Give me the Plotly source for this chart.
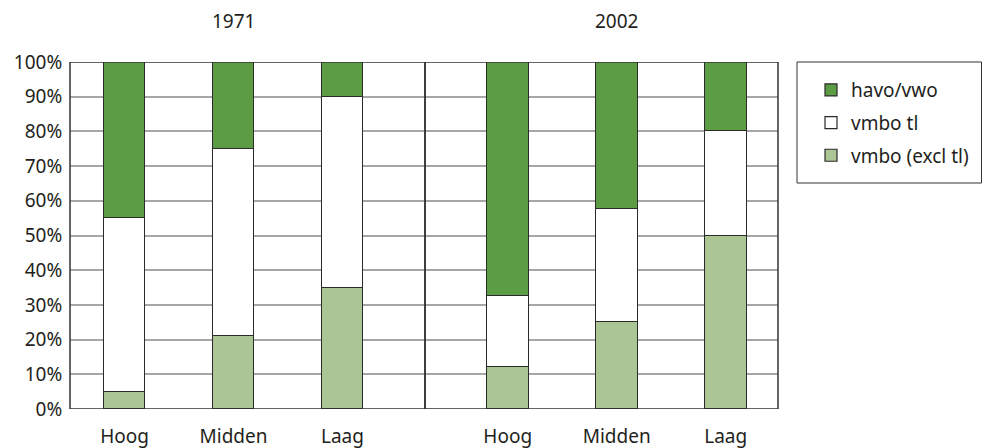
import plotly.graph_objects as go

categories = ["Hoog", "Midden", "Laag"]
years = ["1971", "2002"]
series_names = ["vmbo (excl tl)", "vmbo tl", "havo/vwo"]
vmbo_excl_1971 = [5, 21, 35]
vmbo_tl_1971 = [50, 54, 55]
havo_1971 = [45, 25, 10]
vmbo_excl_2002 = [12, 25, 50]
vmbo_tl_2002 = [20.5, 32.5, 30]
havo_2002 = [67.5, 42.5, 20]
y_ticks = [0, 10, 20, 30, 40, 50, 60, 70, 80, 90, 100]
y_tick_labels = ["0%", "10%", "20%", "30%", "40%", "50%", "60%", "70%", "80%", "90%", "100%"]

colors = {"vmbo (excl tl)": "#acc594", "vmbo tl": "#ffffff", "havo/vwo": "#5c9c45"}
legend_rank = {"havo/vwo": 1, "vmbo tl": 2, "vmbo (excl tl)": 3}
W, H = 982, 448
FONT = "Noto Sans"
FS = 19
TXT = "#231f20"

data = {
    "1971": [vmbo_excl_1971, vmbo_tl_1971, havo_1971],
    "2002": [vmbo_excl_2002, vmbo_tl_2002, havo_2002],
}

fig = go.Figure()
for i, yr in enumerate(years):
    xa = "x" if i == 0 else "x2"
    for name, vals in zip(series_names, data[yr]):
        fig.add_trace(go.Bar(
            x=categories, y=vals, name=name, xaxis=xa, yaxis="y",
            width=0.385, marker=dict(color=colors[name], line=dict(color="#2a2a2a", width=1.2)),
            showlegend=(i == 0), legendgroup=name, legendrank=legend_rank[name],
        ))

px = lambda v: v / W
py = lambda v: (H - v) / H
ydom = [py(409), py(62)]

axis_common = dict(type="category", showgrid=False, zeroline=False, showline=False,
                   ticks="outside", ticklen=10, tickcolor="rgba(0,0,0,0)", automargin=False,
                   tickfont=dict(family=FONT, size=FS, color=TXT), fixedrange=True)
fig.update_layout(
    barmode="stack", bargap=0,
    width=W, height=H, margin=dict(l=0, r=0, t=0, b=0, autoexpand=False),
    paper_bgcolor="white", plot_bgcolor="white",
    font=dict(family=FONT, size=FS, color=TXT),
    xaxis=dict(domain=[px(70), px(425)], range=[-0.5, 2.757], anchor="y", **axis_common),
    xaxis2=dict(domain=[px(425), px(778)], range=[-0.759, 2.48], anchor="y", **axis_common),
    yaxis=dict(domain=ydom, range=[0, 100], tickvals=y_ticks, ticktext=y_tick_labels,
               showgrid=True, gridcolor="#a6a6a6", gridwidth=1.5, zeroline=False,
               showline=False, ticks="outside", ticklen=3, tickcolor="rgba(0,0,0,0)",
               automargin=False,
               tickfont=dict(family=FONT, size=FS, color=TXT), anchor="x"),
    legend=dict(x=px(811), y=py(71), xanchor="left", yanchor="top",
                borderwidth=0, bgcolor="rgba(0,0,0,0)",
                traceorder="grouped", font=dict(family=FONT, size=FS, color=TXT),
                itemwidth=30, tracegroupgap=5),
    showlegend=True,
)

# legend frame
fig.add_shape(type="rect", xref="paper", yref="paper", x0=px(797), x1=px(981.5),
              y0=py(183), y1=py(62), line=dict(color="#333333", width=1),
              fillcolor="rgba(0,0,0,0)", layer="below")

for ref in ["x domain", "x2 domain"]:
    fig.add_shape(type="rect", xref=ref, yref="y", x0=0, x1=1, y0=0, y1=100,
                  line=dict(color="#333333", width=1.5), fillcolor="rgba(0,0,0,0)", layer="above")

for i, yr in enumerate(years):
    fig.add_annotation(text=yr, xref="x" if i == 0 else "x2", yref="paper",
                       x=categories[1], y=py(21), showarrow=False, yanchor="middle",
                       font=dict(family=FONT, size=FS, color=TXT))

fig.write_html("out.html")
